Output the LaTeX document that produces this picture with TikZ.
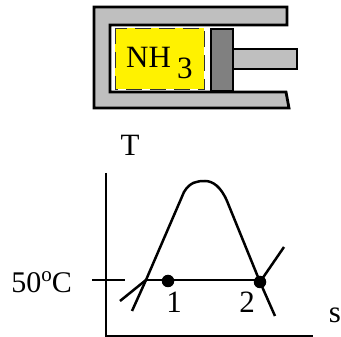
\documentclass[tikz,border=0pt]{standalone}
\usepackage{fontspec}
\setmainfont{Liberation Serif}
\tikzset{
  lab/.style={inner sep=0pt,anchor=base,font=\fontsize{31}{31}\selectfont},
  body/.style={draw=black,line width=2.8pt,line join=miter},
  curve/.style={draw=black,line width=2.5pt},
  pt/.style={circle,fill=black,inner sep=0pt,minimum size=12.5pt}
}
\begin{document}
\begin{tikzpicture}[x=1pt,y=-1pt]
\useasboundingbox (0,0) rectangle (341,337);
% cylinder
\draw[body,fill=black!25] (94,7) -- (287,7) -- (287,25) -- (110,25) -- (110,92) -- (286,92) -- (289,108) -- (94,108) -- cycle;
\fill[yellow] (115,28) rectangle (204,89);
\draw[black!80,line width=0.8pt,dash pattern=on 16pt off 8pt] (115,28) rectangle (204,89);
\draw[body,fill=black!25] (233,49) rectangle (297,69);
\draw[body,fill=black!50] (211,29) rectangle (233,91);
\node[lab,anchor=base west] (nh) at (126,68) {NH};
\node[lab,anchor=base west] (three) at (177,79) {3};
% axes
\coordinate (ytop) at (106,173);
\coordinate (origin) at (106,336);
\coordinate (xend) at (313,336);
\coordinate (tl) at (92,280);
\coordinate (tr) at (125,280);
\draw[curve] (ytop) -- (origin) -- (xend);
\draw[curve] (tl) -- (tr);
% dome
\coordinate (liqL) at (146,280);
\coordinate (vapR) at (260,280);
\node[pt] (p1) at (168,281) {};
\node[pt] (p2) at (260,282) {};
\coordinate (a) at (132,311);
\coordinate (b) at (275,316);
\coordinate (c) at (120,301);
\coordinate (d) at (284,247);
\draw[curve] (a) -- (liqL) -- (184,192) .. controls (190,182) and (197,181) .. (205,181) .. controls (213,181) and (221,187) .. (227,201) -- (p2.center) -- (b);
\draw[curve] (liqL) -- (vapR);
\draw[curve] (c) -- (liqL);
\draw[curve] (p2.center) -- (d);
% labels
\node[lab] (T) at (130,156) {T};
\node[lab] (one) at (174,313) {1};
\node[lab] (two) at (247,313) {2};
\node[lab] (s) at (335,323) {s};
\node[lab,anchor=base east] (temp) at (72,293) {\fontsize{30}{30}\selectfont 50\raisebox{11pt}{\fontsize{21}{21}\selectfont o}C};
\end{tikzpicture}
\end{document}
